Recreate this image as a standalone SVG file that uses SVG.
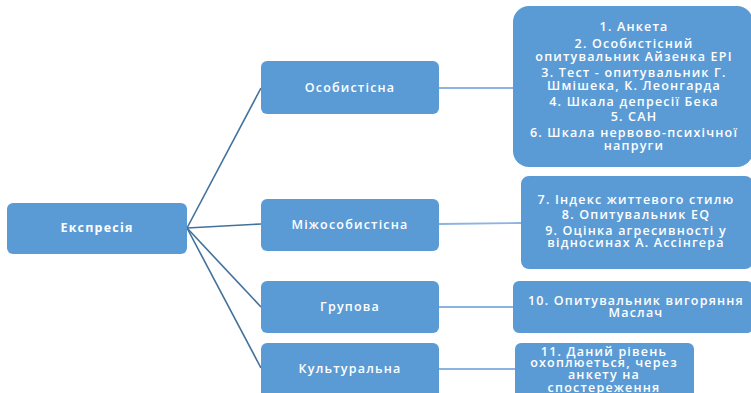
<svg xmlns="http://www.w3.org/2000/svg" width="751" height="393" viewBox="0 0 751 393">
<style>
.box{fill:#5B9BD5;}
.t{fill:#fff;font-family:"Open Sans","DejaVu Sans",sans-serif;font-size:12.5px;font-weight:600;text-anchor:middle;letter-spacing:1.2px;}
.b{font-weight:700;}
.main{stroke:#41719C;stroke-width:1.6;fill:none;}
.sub{stroke:#8DB3E2;stroke-width:1.8;fill:none;}
</style>
<rect width="751" height="393" fill="#fff"/>
<g id="connectors">
<line class="main" x1="187" y1="228" x2="261" y2="88"/>
<line class="main" x1="187" y1="228" x2="261" y2="224"/>
<line class="main" x1="187" y1="228" x2="261" y2="307"/>
<line class="main" x1="187" y1="228" x2="261" y2="368"/>
<line class="sub" x1="439" y1="88" x2="513" y2="88"/>
<line class="sub" x1="439" y1="224" x2="521" y2="223"/>
<line class="sub" x1="439" y1="307" x2="513" y2="307"/>
<line class="sub" x1="439" y1="369" x2="515" y2="369"/>
</g>
<g id="ekspresiia">
<rect class="box" x="7" y="203" width="180" height="51" rx="6"/>
<text class="t b" x="97" y="232">Експресія</text>
</g>
<g id="osobystisna">
<rect class="box" x="261" y="61" width="178" height="53" rx="6"/>
<text class="t" x="350" y="92">Особистісна</text>
</g>
<g id="mizhosobystisna">
<rect class="box" x="261" y="199" width="178" height="52" rx="6"/>
<text class="t" x="350" y="229">Міжособистісна</text>
</g>
<g id="hrupova">
<rect class="box" x="261" y="281" width="178" height="52" rx="6"/>
<text class="t" x="350" y="311">Групова</text>
</g>
<g id="kulturalna">
<rect class="box" x="261" y="343" width="178" height="60" rx="6"/>
<text class="t" x="350" y="373">Культуральна</text>
</g>
<g id="methods1">
<rect class="box" x="513" y="6" width="240" height="161" rx="16"/>
<text class="t" x="634" y="31">1. Анкета</text>
<text class="t" x="634" y="48">2. Особистісний</text>
<text class="t" x="634" y="61">опитувальник Айзенка EPI</text>
<text class="t" x="634" y="77">3. Тест - опитувальник Г.</text>
<text class="t" x="634" y="90">Шмішека, К. Леонгарда</text>
<text class="t" x="634" y="106">4. Шкала депресії Бека</text>
<text class="t" x="634" y="121">5. САН</text>
<text class="t" x="634" y="137">6. Шкала нервово-психічної</text>
<text class="t" x="634" y="150">напруги</text>
</g>
<g id="methods2">
<rect class="box" x="521" y="176" width="232" height="93" rx="8"/>
<text class="t" x="636" y="204">7. Індекс життевого стилю</text>
<text class="t" x="636" y="219">8. Опитувальник EQ</text>
<text class="t" x="636" y="235">9. Оцінка агресивності у</text>
<text class="t" x="636" y="247">відносинах А. Ассінгера</text>
</g>
<g id="methods3">
<rect class="box" x="513" y="281" width="240" height="52" rx="6"/>
<text class="t" x="636" y="305">10. Опитувальник вигоряння</text>
<text class="t" x="636" y="317">Маслач</text>
</g>
<g id="methods4">
<rect class="box" x="515" y="343" width="179" height="60" rx="6"/>
<text class="t" x="604" y="356">11. Даний рівень</text>
<text class="t" x="604" y="367">охоплюеться, через</text>
<text class="t" x="604" y="379">анкету на</text>
<text class="t" x="604" y="392">спостереження</text>
</g>
</svg>
